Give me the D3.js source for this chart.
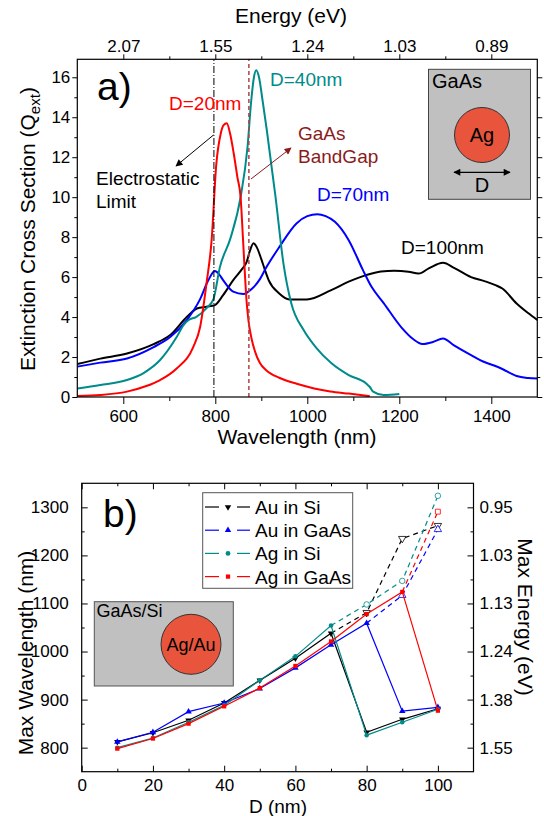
<!DOCTYPE html>
<html>
<head>
<meta charset="utf-8">
<script src="https://cdn.jsdelivr.net/npm/d3@7"></script>
<style>
body { margin: 0; background: #fff; }
svg { font-family: "Liberation Sans", Arial, sans-serif; }
.ax path { display: none; }
.ax line { stroke: #000; stroke-width: 1; }
.ax text { font-size: 17px; fill: #000; font-family: "Liberation Sans", Arial, sans-serif; }
</style>
</head>
<body>
<svg width="544" height="816"></svg>
<script>
// ---------- panel a: extinction spectra, [wavelength nm, Q_ext]
var spec20 = [[500,0.05],[550,0.1],[608,0.27],[650,0.55],[680,0.85],[716,1.43],[752,2.5],[767,3.5],[781,5.7],[792,7.85],[802,11.6],[812,13.2],[818,13.6],[825,13.7],[832,13.2],[840,12.2],[848,11],[855,10],[860,8],[864,6.3],[868,4.8],[872,3.85],[879,2.9],[886,2.3],[897,1.7],[910,1.35],[940,0.95],[977,0.66],[1015,0.43],[1050,0.28],[1090,0.17],[1136,0.04]];
var spec40 = [[500,0.43],[550,0.6],[608,0.85],[644,1.2],[680,1.85],[716,3.0],[731,3.6],[742,3.85],[758,4.0],[781,4.45],[796,4.9],[810,6.5],[833,7.95],[855,10.0],[870,12.5],[878,14.8],[884,16.0],[889,16.35],[895,16.0],[903,14.8],[912,13.35],[931,10.0],[948,6.7],[965,4.7],[992,3.35],[1020,2.45],[1052,1.7],[1090,1.1],[1128,0.68],[1136,0.5],[1143,0.27],[1166,0.1],[1200,0.15]];
var spec70 = [[500,1.52],[550,1.72],[608,1.93],[666,2.5],[702,3.0],[738,3.85],[767,4.9],[785,5.85],[799,6.3],[808,6.15],[817,5.85],[839,5.27],[861,5.15],[879,5.4],[897,5.9],[910,6.45],[939,7.5],[977,8.7],[1000,9.05],[1022,9.15],[1040,9.05],[1060,8.77],[1090,7.85],[1121,6.35],[1140,5.5],[1166,4.7],[1204,3.5],[1230,2.9],[1250,2.65],[1273,2.75],[1295,2.93],[1318,2.6],[1356,2.1],[1385,1.75],[1409,1.55],[1424,1.4],[1455,1.05],[1480,0.95],[1500,0.92]];
var spec100 = [[500,1.65],[550,1.92],[608,2.18],[666,2.65],[702,3.1],[738,4.0],[760,4.43],[781,4.52],[799,4.6],[817,5.1],[839,5.85],[858,6.4],[868,6.75],[875,7.3],[883,7.7],[890,7.5],[900,6.9],[908,6.35],[916,5.85],[939,5.18],[961,4.88],[999,4.88],[1052,5.35],[1090,5.77],[1128,6.1],[1160,6.28],[1189,6.32],[1220,6.27],[1242,6.18],[1265,6.45],[1295,6.72],[1320,6.45],[1356,6.0],[1385,5.8],[1409,5.6],[1424,5.43],[1455,4.68],[1480,4.2],[1500,3.85]];
var wlMajor = [600,800,1000,1200,1400];
var wlMinor = [700,900,1100,1300];
var qMajor = [0,2,4,6,8,10,12,14,16];
var qMinor = [1,3,5,7,9,11,13,15];
var staticLimit = 797, gaasGap = 873;

// ---------- panel b: peak wavelength vs diameter
var diam = [10,20,30,40,50,60,70,80,90,100];
var auSi   = [812,831,857,893,940,986,1038,832,859,881];
var auGaAs = [812,832,875,893,923,966,1014,1059,876,884];
var agSi   = [800,820,853,888,940,990,1054,826,853,880];
var agGaAs = [798,819,850,886,924,970,1021,1078,1124,877];
// dipole branch continued (dashed, open symbols)
var auSiDash   = [[70,1038],[80,1081],[90,1235],[100,1262]];
var auGaAsDash = [[80,1059],[90,1117],[100,1254]];
var agSiDash   = [[70,1054],[80,1098],[90,1147],[100,1324]];
var agGaAsDash = [[90,1124],[100,1291]];
var dMajor = [0,20,40,60,80,100], dMinor = [10,30,50,70,90];
var nmMajor = [800,900,1000,1100,1200,1300], nmMinor = [850,950,1050,1150,1250];

var svg = d3.select("svg");
var defs = svg.append("defs");

function arrowHead(id, col) {
  defs.append("marker").attr("id", id)
    .attr("viewBox", "0 0 10 10").attr("refX", 9).attr("refY", 5)
    .attr("markerWidth", 9).attr("markerHeight", 7)
    .attr("markerUnits", "userSpaceOnUse").attr("orient", "auto-start-reverse")
    .append("path").attr("d", "M0,0 L10,5 L0,10 z").attr("fill", col);
}
arrowHead("ahK", "#000");
arrowHead("ahR", "#8b1a1a");

function addAxis(g, tr, gen) {
  g.append("g").attr("class", "ax").attr("transform", tr).call(gen);
}

// ================= panel a
var xa = d3.scaleLinear().domain([500,1500]).range([77.3,537.3]);
var ya = d3.scaleLinear().domain([0,16.9]).range([397,59.3]);
var ga = svg.append("g");

defs.append("clipPath").attr("id", "clipA").append("rect")
  .attr("x", xa(500)).attr("y", ya(16.9)).attr("width", xa(1500)-xa(500)).attr("height", ya(0)-ya(16.9));

addAxis(ga, "translate(0,397)", d3.axisBottom(xa).tickValues(wlMajor).tickSize(7).tickPadding(6).tickSizeOuter(0).tickFormat(d3.format("d")));
addAxis(ga, "translate(0,397)", d3.axisBottom(xa).tickValues(wlMinor).tickSize(4).tickSizeOuter(0).tickFormat(""));
addAxis(ga, "translate(0,59.3)", d3.axisTop(xa).tickValues(wlMajor).tickSize(5).tickPadding(2).tickSizeOuter(0).tickFormat(function(d){ return (1240/d).toFixed(2); }));
addAxis(ga, "translate(0,59.3)", d3.axisTop(xa).tickValues(wlMinor).tickSize(3).tickSizeOuter(0).tickFormat(""));
addAxis(ga, "translate(77.3,0)", d3.axisLeft(ya).tickValues(qMajor).tickSize(5).tickPadding(2).tickSizeOuter(0));
addAxis(ga, "translate(77.3,0)", d3.axisLeft(ya).tickValues(qMinor).tickSize(3).tickSizeOuter(0).tickFormat(""));
addAxis(ga, "translate(537.3,0)", d3.axisRight(ya).tickValues(qMajor).tickSize(5).tickSizeOuter(0).tickFormat(""));
addAxis(ga, "translate(537.3,0)", d3.axisRight(ya).tickValues(qMinor).tickSize(3).tickSizeOuter(0).tickFormat(""));

var lineA = d3.line().x(function(d){ return xa(d[0]); }).y(function(d){ return ya(d[1]); }).curve(d3.curveMonotoneX);
var curves = ga.append("g").attr("clip-path", "url(#clipA)");
[[spec100,"#000"],[spec70,"#0000ff"],[spec40,"#008b8b"],[spec20,"#ff0000"]].forEach(function(c) {
  curves.append("path").attr("d", lineA(c[0])).attr("fill", "none").attr("stroke", c[1]).attr("stroke-width", 2);
});

ga.append("line").attr("x1", xa(staticLimit)).attr("x2", xa(staticLimit)).attr("y1", ya(0)).attr("y2", ya(16.9))
  .attr("stroke", "#000").attr("stroke-width", 1).attr("stroke-dasharray", "7,2,1,2");
ga.append("line").attr("x1", xa(gaasGap)).attr("x2", xa(gaasGap)).attr("y1", ya(0)).attr("y2", ya(16.9))
  .attr("stroke", "#b04444").attr("stroke-width", 1.5).attr("stroke-dasharray", "4,3");

ga.append("rect").attr("x", xa(500)).attr("y", ya(16.9)).attr("width", xa(1500)-xa(500)).attr("height", ya(0)-ya(16.9))
  .attr("fill", "none").attr("stroke", "#000").attr("stroke-width", 1.2);

// axis titles
ga.append("text").attr("x", 291).attr("y", 23).attr("text-anchor", "middle").attr("font-size", 21).text("Energy (eV)");
ga.append("text").attr("x", 297).attr("y", 444).attr("text-anchor", "middle").attr("font-size", 21).text("Wavelength (nm)");
var yt = ga.append("text").attr("transform", "translate(35,229) rotate(-90)").attr("text-anchor", "middle").attr("font-size", 21);
yt.append("tspan").text("Extinction Cross Section (Q");
yt.append("tspan").attr("font-size", 15).attr("dy", 5).text("ext");
yt.append("tspan").attr("dy", -5).text(")");

ga.append("text").attr("x", 97).attr("y", 100).attr("font-size", 39).text("a)");

function note(g, x, y, t, col, size) {
  g.append("text").attr("x", x).attr("y", y).attr("fill", col).attr("font-size", size || 19).text(t);
}
note(ga, 169, 110, "D=20nm", "#ff0000");
note(ga, 270, 86, "D=40nm", "#008b8b");
note(ga, 317, 201, "D=70nm", "#0000ff");
note(ga, 401, 254, "D=100nm", "#000");
note(ga, 96, 185, "Electrostatic", "#000");
note(ga, 96, 208, "Limit", "#000");
note(ga, 298, 140, "GaAs", "#8b1a1a");
note(ga, 298, 163, "BandGap", "#8b1a1a");
ga.append("line").attr("x1", 213.5).attr("y1", 135).attr("x2", 176).attr("y2", 166)
  .attr("stroke", "#000").attr("stroke-width", 1).attr("marker-end", "url(#ahK)");
ga.append("line").attr("x1", 251).attr("y1", 179).attr("x2", 291).attr("y2", 148)
  .attr("stroke", "#8b1a1a").attr("stroke-width", 1).attr("marker-end", "url(#ahR)");

// inset a
var ia = ga.append("g");
ia.append("rect").attr("x", 428.5).attr("y", 69.3).attr("width", 102).attr("height", 130)
  .attr("fill", "#c0c0c0").attr("stroke", "#444").attr("stroke-width", 1);
ia.append("text").attr("x", 432).attr("y", 88).attr("font-size", 20).text("GaAs");
ia.append("circle").attr("cx", 482).attr("cy", 135).attr("r", 27.5).attr("fill", "#e8553c").attr("stroke", "#333").attr("stroke-width", 1);
ia.append("text").attr("x", 482).attr("y", 142).attr("text-anchor", "middle").attr("font-size", 20).text("Ag");
ia.append("line").attr("x1", 454).attr("x2", 510).attr("y1", 172.3).attr("y2", 172.3).attr("stroke", "#000").attr("stroke-width", 1.2)
  .attr("marker-start", "url(#ahK)").attr("marker-end", "url(#ahK)");
ia.append("text").attr("x", 482).attr("y", 192).attr("text-anchor", "middle").attr("font-size", 20).text("D");

// ================= panel b
var xb = d3.scaleLinear().domain([0,110]).range([81.7,473.5]);
var yb = d3.scaleLinear().domain([750,1350]).range([771.7,483.3]);
var gb = svg.append("g");

addAxis(gb, "translate(0,771.7)", d3.axisBottom(xb).tickValues(dMajor).tickSizeInner(-6).tickSizeOuter(0).tickPadding(7));
addAxis(gb, "translate(0,771.7)", d3.axisBottom(xb).tickValues(dMinor).tickSizeInner(-3).tickSizeOuter(0).tickFormat(""));
addAxis(gb, "translate(0,483.3)", d3.axisTop(xb).tickValues(dMajor).tickSizeInner(-6).tickSizeOuter(0).tickFormat(""));
addAxis(gb, "translate(0,483.3)", d3.axisTop(xb).tickValues(dMinor).tickSizeInner(-3).tickSizeOuter(0).tickFormat(""));
addAxis(gb, "translate(81.7,0)", d3.axisLeft(yb).tickValues(nmMajor).tickSizeInner(-6).tickSizeOuter(0).tickPadding(13).tickFormat(d3.format("d")));
addAxis(gb, "translate(81.7,0)", d3.axisLeft(yb).tickValues(nmMinor).tickSizeInner(-3).tickSizeOuter(0).tickFormat(""));
addAxis(gb, "translate(473.5,0)", d3.axisRight(yb).tickValues(nmMajor).tickSizeInner(-6).tickSizeOuter(0).tickPadding(6)
  .tickFormat(function(d){ return (1240/d).toFixed(2); }));
addAxis(gb, "translate(473.5,0)", d3.axisRight(yb).tickValues(nmMinor).tickSizeInner(-3).tickSizeOuter(0).tickFormat(""));

gb.append("rect").attr("x", xb(0)).attr("y", yb(1350)).attr("width", xb(110)-xb(0)).attr("height", yb(750)-yb(1350))
  .attr("fill", "none").attr("stroke", "#000").attr("stroke-width", 1.2);

gb.append("text").attr("x", 278).attr("y", 813).attr("text-anchor", "middle").attr("font-size", 19).text("D (nm)");
gb.append("text").attr("transform", "translate(33,653) rotate(-90)").attr("text-anchor", "middle").attr("font-size", 21).text("Max Wavelength (nm)");
gb.append("text").attr("transform", "translate(518,617) rotate(90)").attr("text-anchor", "middle").attr("font-size", 21).text("Max Energy (eV)");
gb.append("text").attr("x", 103).attr("y", 527).attr("font-size", 39).text("b)");

// inset b
gb.append("rect").attr("x", 94.3).attr("y", 601.7).attr("width", 139).attr("height", 84.3)
  .attr("fill", "#c0c0c0").attr("stroke", "#555").attr("stroke-width", 1);
gb.append("text").attr("x", 96.5).attr("y", 617).attr("font-size", 18).text("GaAs/Si");
gb.append("circle").attr("cx", 191).attr("cy", 644.3).attr("r", 30).attr("fill", "#e8553c").attr("stroke", "#333").attr("stroke-width", 1);
gb.append("text").attr("x", 191).attr("y", 650.5).attr("text-anchor", "middle").attr("font-size", 18).text("Ag/Au");

var seriesB = [
  { name: "Au in Si",   col: "#000",    vals: auSi,   dash: auSiDash,   sym: d3.symbolTriangle, rot: 180 },
  { name: "Au in GaAs", col: "#0000ff", vals: auGaAs, dash: auGaAsDash, sym: d3.symbolTriangle, rot: 0 },
  { name: "Ag in Si",   col: "#008b8b", vals: agSi,   dash: agSiDash,   sym: d3.symbolCircle,   rot: 0 },
  { name: "Ag in GaAs", col: "#ff0000", vals: agGaAs, dash: agGaAsDash, sym: d3.symbolSquare,   rot: 0 }
];
var lineB = d3.line().x(function(d){ return xb(d[0]); }).y(function(d){ return yb(d[1]); });

seriesB.forEach(function(s) {
  var pts = diam.map(function(d, i){ return [d, s.vals[i]]; });
  gb.append("path").attr("d", lineB(s.dash)).attr("fill", "none").attr("stroke", s.col)
    .attr("stroke-width", 1.2).attr("stroke-dasharray", "5,4");
  gb.append("path").attr("d", lineB(pts)).attr("fill", "none").attr("stroke", s.col).attr("stroke-width", 1.2);
  var sym = d3.symbol().type(s.sym).size(s.sym === d3.symbolCircle ? 16 : 18);
  gb.selectAll(null).data(pts).enter().append("path").attr("d", sym)
    .attr("transform", function(d){ return "translate(" + xb(d[0]) + "," + yb(d[1]) + ") rotate(" + s.rot + ")"; })
    .attr("fill", s.col);
  var openPts = s.dash.filter(function(d){ return s.vals[diam.indexOf(d[0])] !== d[1]; });
  gb.selectAll(null).data(openPts).enter().append("path").attr("d", d3.symbol().type(s.sym).size(24))
    .attr("transform", function(d){ return "translate(" + xb(d[0]) + "," + yb(d[1]) + ") rotate(" + s.rot + ")"; })
    .attr("fill", "#fff").attr("stroke", s.col).attr("stroke-width", 0.8);
});

// legend
var lg = gb.append("g");
lg.append("rect").attr("x", 202.7).attr("y", 492.7).attr("width", 150).attr("height", 95.6)
  .attr("fill", "#fff").attr("stroke", "#555").attr("stroke-width", 1);
seriesB.forEach(function(s, i) {
  var yy = 507 + i * 23.2;
  lg.append("line").attr("x1", 205).attr("x2", 219).attr("y1", yy).attr("y2", yy).attr("stroke", s.col).attr("stroke-width", 1.2);
  lg.append("line").attr("x1", 237).attr("x2", 250).attr("y1", yy).attr("y2", yy).attr("stroke", s.col).attr("stroke-width", 1.2);
  lg.append("path").attr("d", d3.symbol().type(s.sym).size(18)).attr("fill", s.col)
    .attr("transform", "translate(228," + yy + ") rotate(" + s.rot + ")");
  lg.append("text").attr("x", 255).attr("y", yy + 7).attr("font-size", 19).text(s.name);
});
</script>
</body>
</html>
